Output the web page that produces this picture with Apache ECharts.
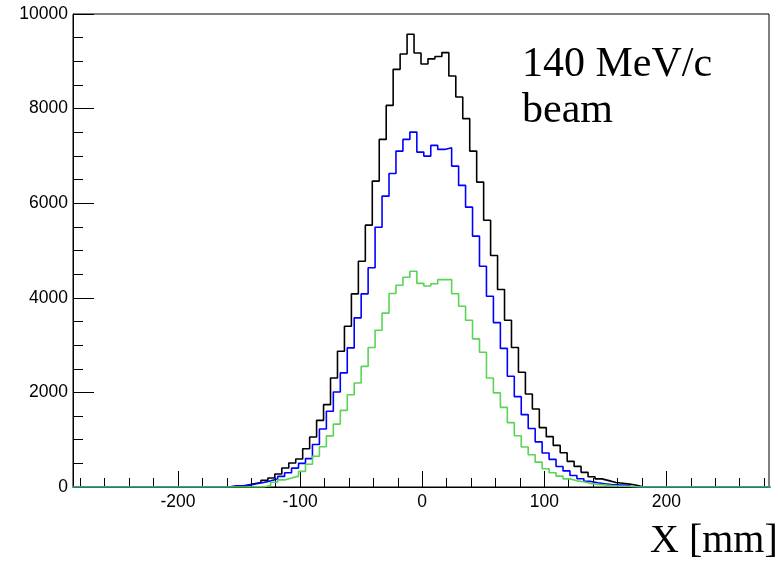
<!DOCTYPE html>
<html><head><meta charset="utf-8">
<script src="https://cdn.jsdelivr.net/npm/echarts@6/dist/echarts.min.js"></script>
<style>html,body{margin:0;padding:0;background:#fff}#c{width:778px;height:562px}</style>
</head><body><div id="c"></div><script>
// Histogram binning (mm)
const xMin = -286, xMax = 284, nBins = 100, binWidth = 5.7;
const yMin = 0, yMax = 10000, yInterval = 2000;

// Black histogram: counts for bins starting at index blackFirstBin
const blackOffset = 0;
const blackFirstBin = 24;
const blackCounts = [34,70,97,140,190,275,402,508,592,810,1058,1409,1741,2306,2869,3398,4084,4774,5536,6467,7349,8068,8830,9154,9571,9175,8943,9052,9100,9184,8689,8244,7787,7102,6446,5641,4894,4175,3525,2950,2425,1965,1650,1255,1065,880,725,542,436,310,218,172,135,95,78,60,38];

// Blue histogram (bins shifted by blueOffset mm)
const blueOffset = 2.3;
const blueFirstBin = 22;
const blueCounts = [25,25,40,70,97,130,170,224,300,400,500,600,900,1227,1600,2010,2412,2941,3576,4084,4634,5493,6149,6629,7101,7349,7503,7080,6996,7222,7137,7173,6784,6376,5916,5303,4668,4033,3476,2930,2340,1910,1530,1238,955,719,585,433,340,242,175,118,91,66,50,45,42];

// Green histogram
const greenOffset = 2.3;
const greenFirstBin = 27;
const greenCounts = [30,100,150,190,230,330,480,650,850,1080,1330,1620,1950,2200,2550,2950,3314,3675,4090,4266,4435,4562,4305,4250,4298,4385,4385,4087,3822,3525,3132,2848,2306,1989,1683,1360,1085,846,683,525,385,300,230,172,130,110,75,55,45,30,20,15,10];

// Tick labels
const xTickLabels = [-200, -100, 0, 100, 200];
const xMinorTicks = [-280,-260,-240,-220,-180,-160,-140,-120,-80,-60,-40,-20,20,40,60,80,120,140,160,180,220,240,260,280];
const yTickLabels = [0, 2000, 4000, 6000, 8000, 10000];

function stepPoints(firstBin, counts, offset) {
  const pts = [[xMin, 0]];
  const lo = xMin + offset;
  for (let k = 0; k < nBins; k++) {
    const idx = k - firstBin;
    const v = (idx >= 0 && idx < counts.length) ? counts[idx] : 0;
    const x0 = lo + k * binWidth, x1 = x0 + binWidth;
    pts.push([x0, v], [x1, v]);
  }
  return pts;
}

const chart = echarts.init(document.getElementById('c'), null, {renderer: 'canvas'});
const labelFont = {fontFamily: '"Liberation Sans", Arial, sans-serif', fontSize: 17.5, color: '#000'};
function histSeries(name, pts, color) {
  return {
    name, type: 'line', data: pts, showSymbol: false, symbol: 'none',
    clip: true, animation: false,
    lineStyle: {color, width: 1.6}, z: 3
  };
}
chart.setOption({
  animation: false,
  backgroundColor: '#fff',
  grid: {left: 73, right: 9, top: 14, bottom: 75, show: true, borderColor: '#000', borderWidth: 1, backgroundColor: 'transparent', outerBoundsMode: 'none'},
  xAxis: [{
    type: 'value', min: xMin, max: xMax,
    axisLine: {show: true, onZero: false, lineStyle: {color: '#000', width: 1}},
    axisTick: {show: true, inside: true, length: 16, customValues: xTickLabels, lineStyle: {color: '#000', width: 1}},
    axisLabel: {show: true, customValues: xTickLabels, margin: 6, ...labelFont},
    splitLine: {show: false}
  }, {
    type: 'value', min: xMin, max: xMax, position: 'bottom',
    axisLine: {show: false, onZero: false},
    axisTick: {show: true, inside: true, length: 9, customValues: xMinorTicks, lineStyle: {color: '#000', width: 1}},
    axisLabel: {show: false},
    splitLine: {show: false}
  }],
  yAxis: {
    type: 'value', min: yMin, max: yMax, interval: yInterval, position: 'left',
    axisLine: {show: true, onZero: false, lineStyle: {color: '#000', width: 1}},
    axisTick: {show: true, inside: true, length: 21, lineStyle: {color: '#000', width: 1}},
    minorTick: {show: true, splitNumber: 4, length: 10, lineStyle: {color: '#000', width: 1}},
    axisLabel: {margin: 5, ...labelFont, formatter: v => yTickLabels.includes(v) ? String(v) : ''},
    splitLine: {show: false}
  },
  series: [
    histSeries('black', stepPoints(blackFirstBin, blackCounts, blackOffset), '#000000'),
    histSeries('blue', stepPoints(blueFirstBin, blueCounts, blueOffset), '#0000ff'),
    histSeries('green', stepPoints(greenFirstBin, greenCounts, greenOffset), '#59d454')
  ],
  graphic: [
    {type: 'text', x: 522, y: 65, style: {text: '140 MeV/c', font: '42px "Liberation Serif", "Times New Roman", serif', fill: '#000', verticalAlign: 'middle', align: 'left'}},
    {type: 'text', x: 522, y: 111, style: {text: 'beam', font: '42px "Liberation Serif", "Times New Roman", serif', fill: '#000', verticalAlign: 'middle', align: 'left'}},
    {type: 'text', x: 650, y: 541, style: {text: 'X [mm]', font: '40px "Liberation Serif", "Times New Roman", serif', fill: '#000', verticalAlign: 'middle', align: 'left'}}
  ]
});
</script></body></html>
